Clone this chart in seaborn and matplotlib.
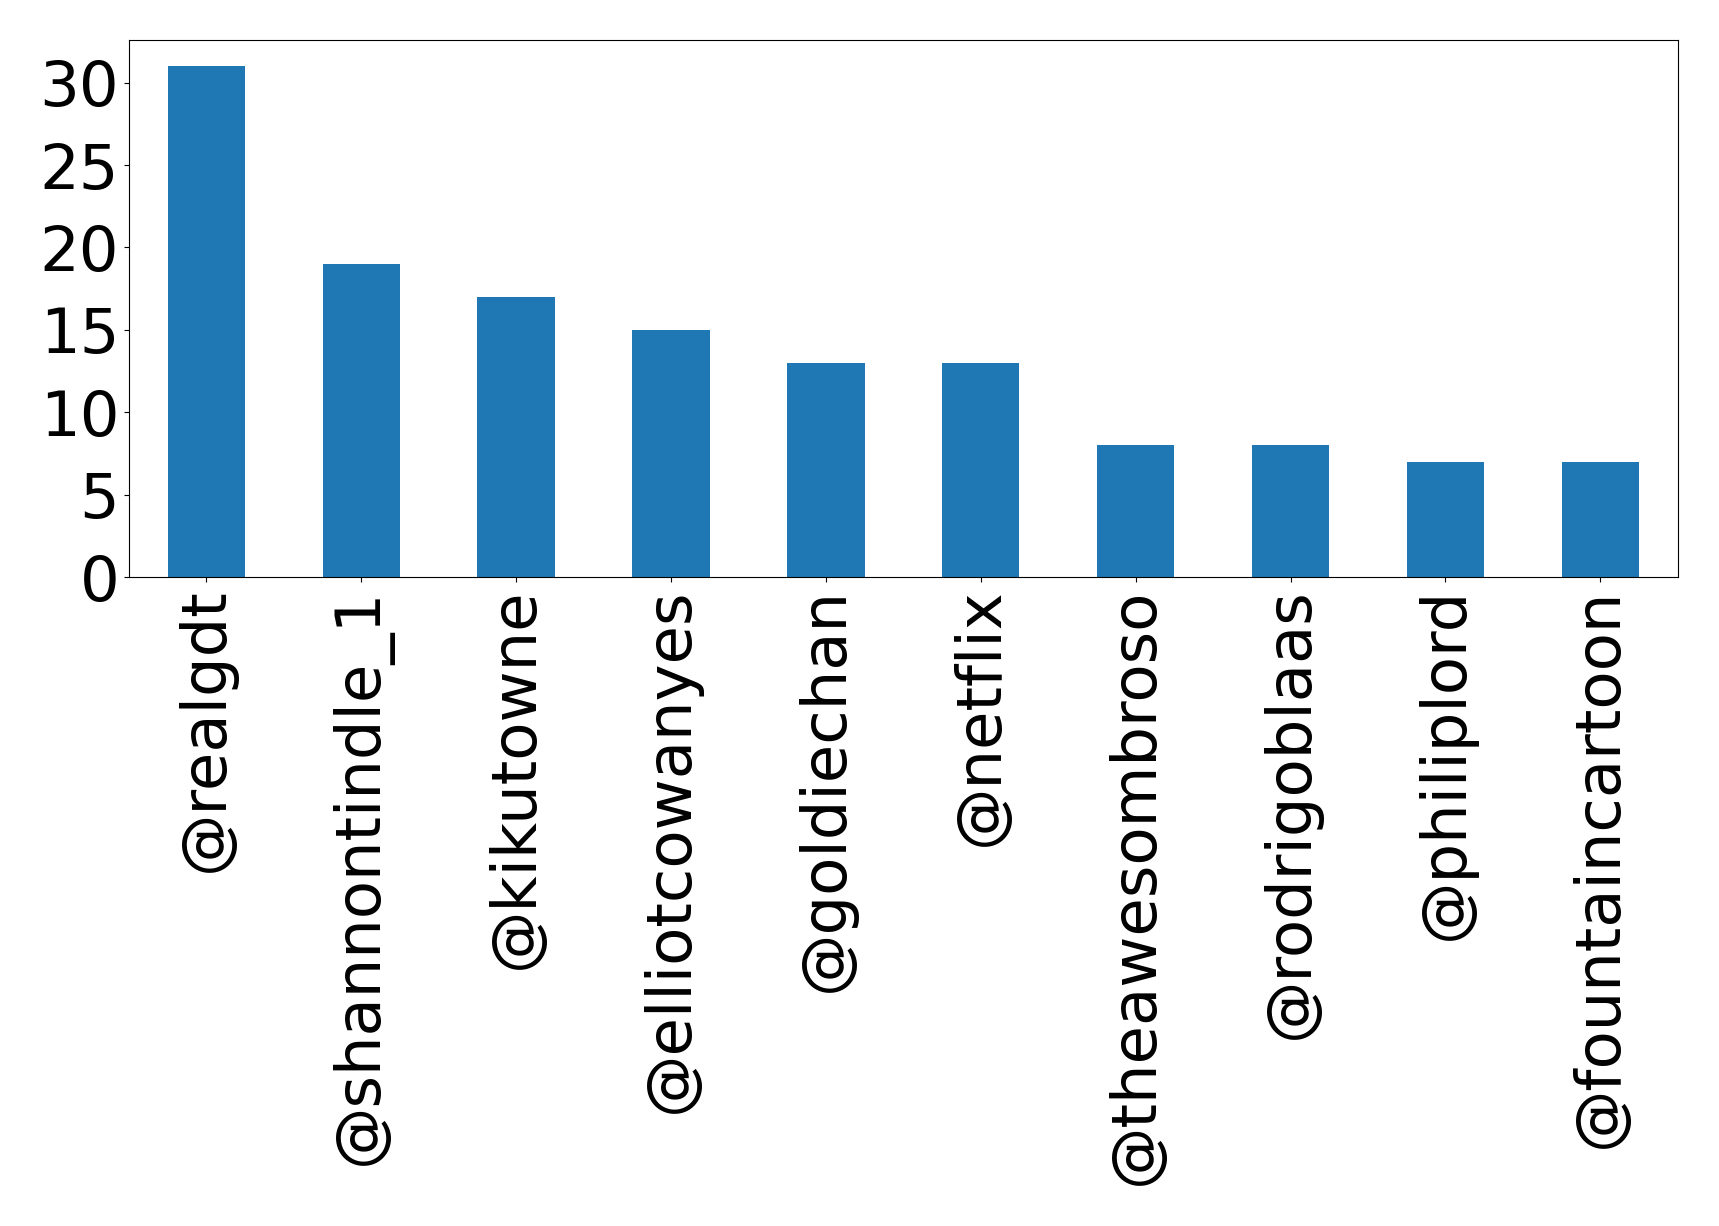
import matplotlib
matplotlib.use("Agg")
import matplotlib.pyplot as plt
from matplotlib.ticker import MultipleLocator
import pandas as pd
import seaborn as sns

users = ["@realgdt", "@shannontindle_1", "@kikutowne", "@elliotcowanyes", "@goldiechan",
         "@netflix", "@theawesombroso", "@rodrigoblaas", "@philiplord", "@fountaincartoon"]
counts = [31, 19, 17, 15, 13, 13, 8, 8, 7, 7]

df = pd.DataFrame({"user": users, "count": counts})

fig, ax = plt.subplots(figsize=(17.19, 12.26), dpi=100)
sns.barplot(data=df, x="user", y="count", color="#1f77b4", saturation=1, width=0.5, ax=ax)
ax.set_ylim(0, max(counts) * 1.05)
ax.yaxis.set_major_locator(MultipleLocator(5))
ax.set_xlabel("")
ax.set_ylabel("")
ax.tick_params(axis="both", labelsize=45)
ax.tick_params(axis="x", labelrotation=90)
plt.subplots_adjust(left=0.075, right=0.976, top=0.967, bottom=0.529)
plt.savefig("out.png")
